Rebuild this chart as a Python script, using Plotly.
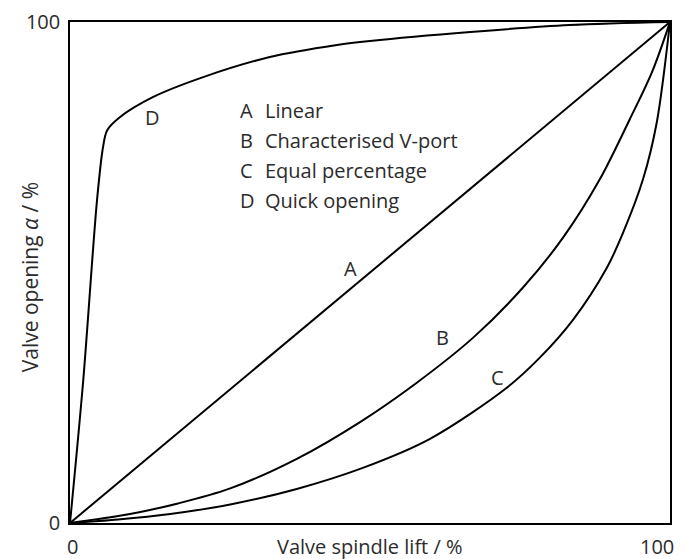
import plotly.graph_objects as go

# ── Data ────────────────────────────────────────────────────────────────
lift_a = [0, 100]
open_a = [0, 100]

lift_b = [0, 10, 18, 26.7, 37.8, 48.8, 57.8, 67.2, 75.5, 82.2, 88.3, 93.3, 97, 100]
open_b = [0, 1.8, 3.9, 6.9, 12.8, 20.5, 28.0, 37.0, 47.0, 57.0, 68.6, 80.6, 90, 100]

lift_c = [0, 8, 16.7, 26.7, 37.8, 48.8, 60, 72.8, 78.3, 83.8, 89.5, 92.2, 95.5, 97.8, 100]
open_c = [0, 0.7, 1.8, 3.7, 6.8, 11.0, 16.8, 27.0, 33.0, 40.5, 51, 58, 68.6, 80, 100]

lift_d = [0, 2.2, 4.5, 5.5, 6.2, 8.3, 13.8, 22.2, 33.3, 44.5, 50, 66.7, 83.3, 100]
open_d = [0, 28.4, 64.4, 75.0, 78.4, 81, 85, 89, 93, 95.4, 96.2, 98, 99.4, 100]

axis_ticks = [0, 100]
x_tick_text = ["0", "100"]

curve_tags = ["A", "B", "C", "D"]
curve_names = ["Linear", "Characterised V-port", "Equal percentage", "Quick opening"]
tag_x = [46.7, 62, 71.2, 13.7]
tag_y = [50.8, 37, 29, 81]

_FONT = "Open Sans, Noto Sans, sans-serif"
_TXT = "#2b2b2b"
_FS = 20

fig = go.Figure()

for xs, ys in [(lift_a, open_a), (lift_b, open_b), (lift_c, open_c), (lift_d, open_d)]:
    fig.add_trace(
        go.Scatter(
            x=xs,
            y=ys,
            mode="lines",
            line=dict(color="black", width=2, shape="spline", smoothing=0.9),
            showlegend=False,
            hoverinfo="skip",
        )
    )

# letters sitting on the curves
for t, x, y in zip(curve_tags, tag_x, tag_y):
    fig.add_annotation(x=x, y=y, text=t, showarrow=False,
                       font=dict(family=_FONT, size=_FS, color=_TXT))

# key in the upper left
for i, (t, name) in enumerate(zip(curve_tags, curve_names)):
    y = 82.4 - 6 * i
    fig.add_annotation(x=28, y=y, text=t, showarrow=False, xanchor="left",
                       font=dict(family=_FONT, size=_FS, color=_TXT))
    fig.add_annotation(x=32.2, y=y, text=name, showarrow=False, xanchor="left",
                       font=dict(family=_FONT, size=_FS, color=_TXT))

# x tick labels: the right one is right-aligned so it is not cut at the edge
fig.add_annotation(x=axis_ticks[0], y=-0.046, yref="paper", yanchor="middle",
                   text=x_tick_text[0], showarrow=False, xshift=2,
                   font=dict(family=_FONT, size=_FS, color=_TXT))
fig.add_annotation(x=axis_ticks[1], y=-0.046, yref="paper", yanchor="middle",
                   xanchor="right", text=x_tick_text[1], showarrow=False, xshift=6,
                   font=dict(family=_FONT, size=_FS, color=_TXT))

# axis titles
fig.add_annotation(x=0.5, y=-0.046, xref="paper", yref="paper", yanchor="middle",
                   text="Valve spindle lift / %", showarrow=False,
                   font=dict(family=_FONT, size=_FS, color=_TXT))
fig.add_annotation(x=-0.067, y=0.49, xref="paper", yref="paper", textangle=-90,
                   xanchor="center", yanchor="middle",
                   text="Valve opening <i>α</i> / %", showarrow=False,
                   font=dict(family=_FONT, size=_FS + 1, color=_TXT))

_axis = dict(
    range=[0, 100],
    tickvals=axis_ticks,
    showgrid=False,
    zeroline=False,
    showline=True,
    mirror=True,
    linecolor="black",
    linewidth=1.5,
    ticks="outside",
    tickcolor="rgba(0,0,0,0)",
    tickfont=dict(family=_FONT, size=_FS, color=_TXT),
    automargin=False,
)

# page body adds an 8 px offset, so the figure is sized to fit the window
fig.update_layout(
    width=677,
    height=551,
    paper_bgcolor="white",
    plot_bgcolor="white",
    margin=dict(l=62, r=15, t=14, b=36),
    xaxis=dict(**_axis, showticklabels=False),
    yaxis=dict(**_axis, ticklen=4),
    showlegend=False,
)

fig.write_html("out.html")
